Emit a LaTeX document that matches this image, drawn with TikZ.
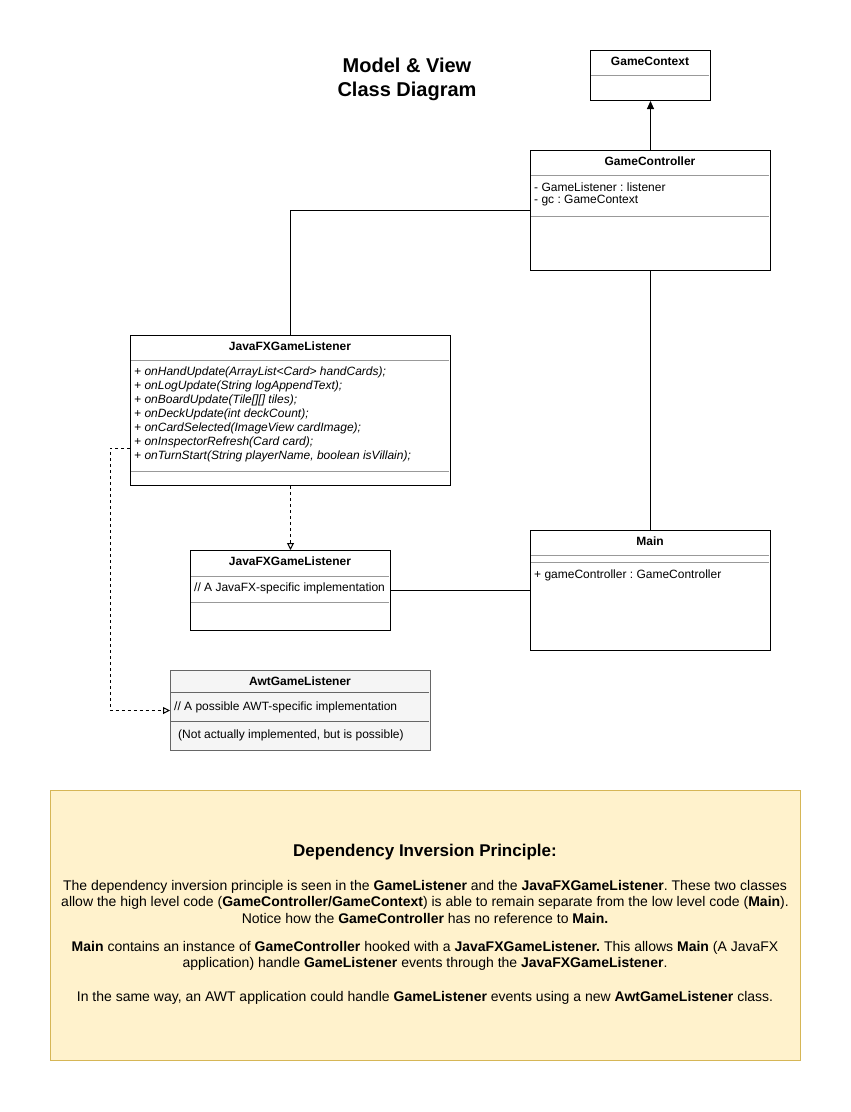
\documentclass[tikz,border=0pt]{standalone}
\usepackage{fontspec}
\setmainfont{Liberation Sans}
\usetikzlibrary{arrows.meta}
\definecolor{notefill}{HTML}{FFF2CC}
\definecolor{noteline}{HTML}{D6B656}
\definecolor{awtfill}{HTML}{F5F5F5}
\definecolor{awtline}{HTML}{666666}
\definecolor{divgray}{HTML}{999999}
\frenchspacing
\begin{document}
\frenchspacing
\begin{tikzpicture}[x=1pt,y=-1pt,
  cls/.style={draw=black,line width=1pt,fill=white,anchor=north west,inner sep=0pt},
  divider/.style={draw=divgray,line width=1pt},
  ctitle/.style={font=\fontsize{12}{14}\selectfont\bfseries,inner sep=0pt},
  ctext/.style={font=\fontsize{12}{14}\selectfont,inner sep=0pt,anchor=west},
  mtext/.style={font=\fontsize{12}{14}\selectfont\itshape,inner sep=0pt,anchor=west},
  conn/.style={draw=black,line width=1pt},
  dashconn/.style={draw=black,line width=1pt,dash pattern=on 3pt off 3pt},
  notetext/.style={font=\fontsize{14}{16}\selectfont,inner sep=0pt,align=center}
]
\useasboundingbox[fill=white] (0,0) rectangle (851,1112);

% Title
\node[font=\fontsize{20}{24}\selectfont\bfseries,align=center,inner sep=0pt] (title) at (407,79) {Model \& View\\Class Diagram};

% GameContext
\node[cls,minimum width=120pt,minimum height=50pt] (gctx) at (590,50) {};
\draw[divider] (591,75) -- (709,75);
\node[ctitle] (gctxt) at (650,61) {GameContext};

% GameController
\node[cls,minimum width=240pt,minimum height=120pt] (gctrl) at (530,150) {};
\draw[divider] (531,175) -- (769,175);
\draw[divider] (531,216) -- (769,216);
\node[ctitle] (gctrlt) at (650,161) {GameController};
\node[ctext] (gca1) at (534,187) {- GameListener : listener};
\node[ctext] (gca2) at (534,201) {- gc : GameContext};

% JavaFXGameListener (big)
\node[cls,minimum width=320pt,minimum height=150pt] (jfx) at (130,335) {};
\draw[divider] (131,360) -- (449,360);
\draw[divider] (131,471) -- (449,471);
\node[ctitle] (jfxt) at (290,346) {JavaFXGameListener};
\node[mtext] (m1) at (134,372) {+ onHandUpdate(ArrayList<Card> handCards);};
\node[mtext] (m2) at (134,386) {+ onLogUpdate(String logAppendText);};
\node[mtext] (m3) at (134,400) {+ onBoardUpdate(Tile[][] tiles);};
\node[mtext] (m4) at (134,414) {+ onDeckUpdate(int deckCount);};
\node[mtext] (m5) at (134,428) {+ onCardSelected(ImageView cardImage);};
\node[mtext] (m6) at (134,442) {+ onInspectorRefresh(Card card);};
\node[mtext] (m7) at (134,456) {+ onTurnStart(String playerName, boolean isVillain);};

% JavaFXGameListener (impl)
\node[cls,minimum width=200pt,minimum height=80pt] (jfxi) at (190,550) {};
\draw[divider] (191,576) -- (389,576);
\draw[divider] (191,602) -- (389,602);
\node[ctitle] (jfxit) at (290,561) {JavaFXGameListener};
\node[ctext] (jfxia) at (194,588) {// A JavaFX-specific implementation};

% Main
\node[cls,minimum width=240pt,minimum height=120pt] (main) at (530,530) {};
\draw[divider] (531,555) -- (769,555);
\draw[divider] (531,562) -- (769,562);
\node[ctitle] (maint) at (650,541) {Main};
\node[ctext] (maina) at (534,575) {+ gameController : GameController};

% AwtGameListener
\node[cls,draw=awtline,fill=awtfill,minimum width=260pt,minimum height=80pt] (awt) at (170,670) {};
\draw[draw=awtline,line width=1pt] (171,692) -- (429,692);
\draw[draw=awtline,line width=1pt] (171,721) -- (429,721);
\node[ctitle] (awtt) at (300,681) {AwtGameListener};
\node[ctext] (awta) at (174,707) {// A possible AWT-specific implementation};
\node[ctext] (awtb) at (178,735) {(Not actually implemented, but is possible)};

% Connectors
\draw[conn,-{Triangle[length=8pt,width=7pt]}] (gctrl.north) -- (gctx.south);
\draw[conn] (jfx.north) |- (gctrl.west);
\draw[conn] (gctrl.south) -- (main.north);
\draw[conn] (jfxi.east) -- (main.west);
\draw[dashconn,-{Triangle[open,length=7pt,width=7pt]}] (jfx.south) -- (jfxi.north);
\coordinate (dstart) at (130,448);
\coordinate (dcorner) at (110,448);
\draw[dashconn,-{Triangle[open,length=7pt,width=7pt]}] (dstart) -- (dcorner) |- (awt.west);

% Note
\node[draw=noteline,fill=notefill,line width=1pt,anchor=north west,minimum width=750pt,minimum height=270pt,inner sep=0pt] (note) at (50,790) {};
\node[font=\fontsize{17}{20}\selectfont\bfseries,inner sep=0pt] (notet) at (425,852) {Dependency Inversion Principle:};
\node[notetext] (n1) at (425,887) {The dependency inversion principle is seen in the \textbf{GameListener} and the \textbf{JavaFXGameListener}. These two classes};
\node[notetext] (n2) at (425,903) {allow the high level code (\textbf{GameController/GameContext}) is able to remain separate from the low level code (\textbf{Main}).};
\node[notetext] (n3) at (425,918) {Notice how the \textbf{GameController} has no reference to \textbf{Main.}};
\node[notetext] (n4) at (425,948) {\textbf{Main} contains an instance of \textbf{GameController} hooked with a \textbf{JavaFXGameListener.} This allows \textbf{Main} (A JavaFX};
\node[notetext] (n5) at (425,964) {application) handle \textbf{GameListener} events through the \textbf{JavaFXGameListener}.};
\node[notetext] (n6) at (425,998) {In the same way, an AWT application could handle \textbf{GameListener} events using a new \textbf{AwtGameListener} class.};
\end{tikzpicture}
\end{document}
